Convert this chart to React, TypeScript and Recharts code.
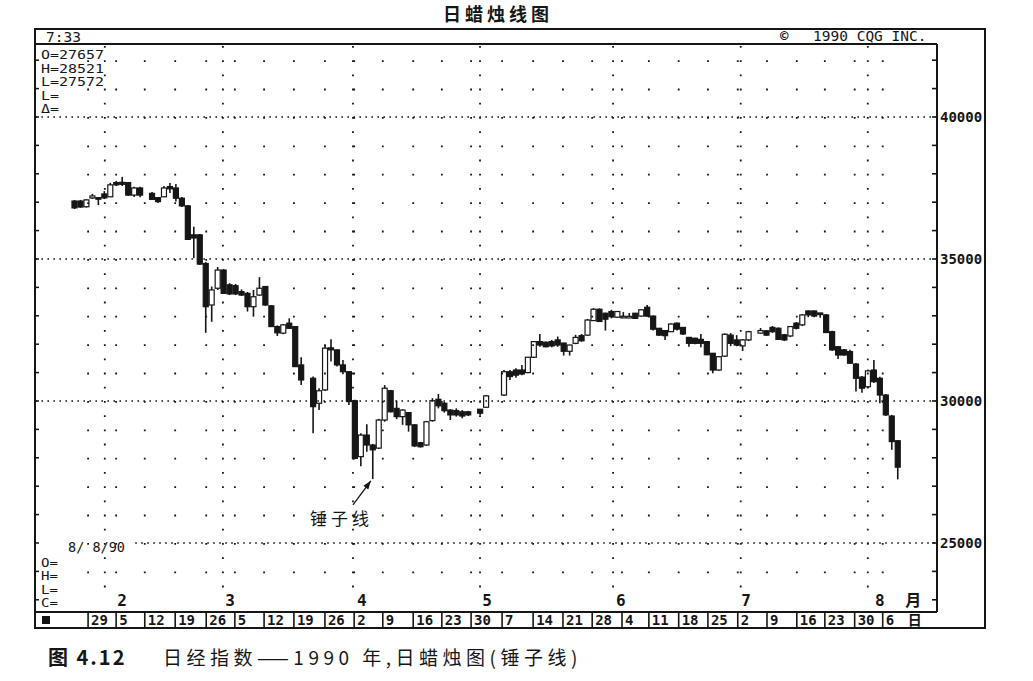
import React from 'react'
import { ComposedChart, Bar, XAxis, YAxis, ReferenceLine } from 'recharts'

const INK = '#161616'
const MONO = '"DejaVu Sans Mono", monospace'
const CJK = '"Noto Sans CJK SC", sans-serif'

// one slot per weekday, Thu 25 Jan 1990 .. Wed 8 Aug 1990; null = no session drawn
const opens = [
  37040, 37040, 36840, 37150, 37160, 37290, 37190, 37690, 37700, 37690, 37250, 37500, null, 37310, 37160, 37190,
  37550, 37500, 37140, 36870, 35850, 35850, 34840, 33380, 33970, 34610, 34090, 34060, 33850, 33790, 33320, 33730,
  34030, 33350, 32620, 32390, 32740, 32620, 31270, null, 30800, 29920, 30390, 31870, 31800, 31270, 31030, 30010,
  28040, 28800, 28450, 28340, 29330, 30360, 29740, 29450, 29590, 29160, 28530, 28450, 29310, 30060, 29920, 29680,
  29660, 29620, 29620, null, 29710, 29780, null, null, 30210, 31030, 31090, 31090, 31000, 31540, 32090, 32070,
  32090, 32150, 32040, 31750, 32030, 32300, 32320, 32830, 33230, 33090, 33150, 32950, 32950, 32950, 33090, 32990,
  33300, 32990, 32560, 32480, 32440, 32740, 32590, 32240, 32210, 32170, 32090, 31680, 31090, 31580, 32320, 32150,
  31940, 32150, null, 32390, 32470, 32590, 32560, 32330, 32290, 32740, 32680, 33170, 33170, 33100, 33030, 32440,
  31910, 31800, 31740, 31300, 30840, 30500, 31090, 30800, 30210, 29470, 28600,
]
const highs = [
  37080, 37080, 37110, 37290, 37160, 37390, 37680, 37750, 37890, 37710, 37540, 37540, null, 37360, 37180, 37570,
  37680, 37640, 37180, 36900, 36140, 35880, 34890, 34030, 34720, 34650, 34150, 34120, 33930, 33840, 33910, 34360,
  34050, 33380, 32660, 32710, 32910, 32640, 31540, null, 30860, 30450, 31970, 32170, 31810, 31440, 31060, 30040,
  28860, 29180, 28490, 29370, 30560, 30390, 30010, 29710, 29610, 29180, 28560, 29300, 30100, 30250, 29970, 29710,
  29740, 29680, 29650, null, 29720, 30210, null, null, 31090, 31090, 31150, 31270, 31550, 32110, 32360, 32090,
  32150, 32270, 32050, 31980, 32330, 32360, 32890, 33270, 33260, 33110, 33210, 33170, 33130, 33100, 33100, 33220,
  33380, 33010, 32570, 32500, 32730, 32760, 32600, 32250, 32230, 32360, 32100, 31690, 31580, 32380, 32390, 32320,
  32180, 32470, null, 32570, 32500, 32640, 32590, 32360, 32640, 32780, 33060, 33190, 33190, 33100, 33060, 32470,
  31930, 31830, 31800, 31340, 30880, 31110, 31440, 30850, 30250, 29510, 28620,
]
const lows = [
  36760, 36800, 36810, 37110, 36900, 37110, 37180, 37570, 37570, 37220, 37180, 37170, null, 37080, 36970, 37180,
  37320, 37020, 36830, 35670, 35030, 34790, 32400, 32790, 33910, 33770, 33730, 33730, 33700, 33150, 32970, 33700,
  33350, 32610, 32290, 32350, 32540, 31200, 30560, null, 28860, 29680, 30350, 31390, 31210, 30940, 29860, 27960,
  27700, 28210, 27250, 28310, 29270, 29600, 29360, 29160, 28920, 28380, 28360, 28420, 29270, 29740, 29590, 29330,
  29450, 29390, 29470, null, 29510, 29750, null, null, 30180, 30740, 30820, 30910, 30980, 31510, 31910, 31890,
  31890, 31910, 31600, 31600, 32000, 32090, 32290, 32820, 32790, 32480, 32910, 32920, 32940, 32940, 32890, 32970,
  32970, 32480, 32290, 32150, 32430, 32480, 32320, 31910, 32000, 31890, 31610, 30980, 31060, 31550, 31930, 31930,
  31760, 32110, null, 32370, 32290, 32400, 32150, 32110, 32250, 32520, 32640, 32950, 32950, 32930, 32390, 31760,
  31480, 31590, 31300, 30330, 30290, 30460, 30630, 29920, 29470, 28280, 27240,
]
const closes = [
  36800, 36830, 37080, 37220, 37140, 37150, 37610, 37610, 37630, 37250, 37500, 37250, null, 37100, 37020, 37500,
  37470, 37140, 36870, 35690, 35740, 34820, 33320, 33910, 34610, 33790, 33770, 33770, 33730, 33320, 33670, 33970,
  33380, 32620, 32400, 32680, 32560, 31210, 30740, null, 29800, 30360, 31860, 31800, 31270, 31030, 29980, 27980,
  28800, 28450, 28280, 29330, 30450, 29620, 29450, 29680, 29160, 28420, 28390, 29270, 30010, 29830, 29660, 29510,
  29510, 29470, 29510, null, 29570, 30180, null, null, 31030, 30860, 30910, 30950, 31540, 32090, 31970, 31910,
  31940, 31970, 31750, 31970, 32240, 32120, 32850, 33230, 32800, 32880, 32970, 33150, 32980, 32980, 32910, 33210,
  32990, 32530, 32320, 32300, 32710, 32530, 32360, 32030, 32030, 32030, 31630, 31090, 31560, 32350, 32030, 31970,
  32150, 32440, null, 32480, 32320, 32440, 32170, 32150, 32620, 32560, 33030, 33030, 32990, 33080, 32410, 31800,
  31620, 31620, 31330, 30800, 30450, 31060, 30680, 30210, 29510, 28570, 27670,
]

// date strip: Monday boxes, in slot units
const weekTicks = [
  2.2, 6.9, 11.7, 16.8, 22.0, 26.8, 31.7, 36.7, 41.9, 46.8, 51.6, 56.7, 61.5, 66.4,
  71.6, 76.8, 81.8, 86.7, 91.7, 96.2, 101.2, 106.1, 111.1, 116.0, 121.0, 125.7, 130.7, 135.4, 139.1,
]
const weekLabels = [
  '29', '5', '12', '19', '26', '5', '12', '19', '26', '2', '9', '16', '23', '30',
  '7', '14', '21', '28', '4', '11', '18', '25', '2', '9', '16', '23', '30', '6', '日',
]
const monthTicks = [7.9, 26.0, 48.1, 69.1, 91.5, 112.5, 134.9, 140.5]
const monthLabels = ['2', '3', '4', '5', '6', '7', '8', '月']
const monthStarts = [5.0, 24.8, 46.6, 67.9, 90.2, 111.6, 132.9]
const priceTicks = [23000, 24000, 25000, 26000, 27000, 28000, 29000, 30000, 31000, 32000, 33000, 34000, 35000, 36000, 37000, 38000, 39000, 40000, 41000, 42000]
const majorLevels = [40000, 35000, 30000]

const X_DOMAIN: [number, number] = [-6.7, 144.5]
const Y_DOMAIN: [number, number] = [22570, 42570]
const PX_PER_1000 = 28.4

const candles = opens
  .map((o, i) =>
    o == null
      ? null
      : { slot: i, o, h: highs[i] as number, l: lows[i] as number, c: closes[i] as number, range: [lows[i], highs[i]] },
  )
  .filter(Boolean)

const Candle = (props: any) => {
  const { x, y, width, height, payload } = props
  if (!payload || height == null) return null
  const { o, c, h, l } = payload
  const span = h - l || 1
  const py = (v: number) => y + ((h - v) / span) * height
  const cx = x + width / 2
  const top = py(Math.max(o, c))
  const bot = py(Math.min(o, c))
  const up = c > o
  return (
    <g>
      <line x1={cx} x2={cx} y1={y} y2={y + height} stroke={INK} strokeWidth={1.6} />
      <rect x={x} y={top} width={width} height={Math.max(bot - top, 1.6)} fill={up ? '#fff' : INK} stroke={INK} strokeWidth={1.2} />
    </g>
  )
}

const WeekTick = (p: any) => {
  const label = weekLabels[p.index]
  const boxed = /\d/.test(label)
  return (
    <g>
      {boxed && <line x1={p.x} x2={p.x} y1={p.y} y2={p.y + 16} stroke={INK} strokeWidth={1.6} />}
      <text x={p.x + 3} y={p.y + 13} fontFamily={boxed ? MONO : CJK} fontSize={14} fontWeight="bold" fill={INK}>
        {label}
      </text>
    </g>
  )
}

const PriceTick = (p: any) => {
  const v = p.payload.value
  return (
    <g>
      <line x1={p.x - 5} x2={p.x} y1={p.y} y2={p.y} stroke={INK} strokeWidth={1.6} />
      {v % 5000 === 0 && (
        <text x={p.x + 3} y={p.y + 5} fontFamily={MONO} fontSize={14} fontWeight="bold" fill={INK}>
          {v}
        </text>
      )}
    </g>
  )
}

const HammerArrow = (p: any) => {
  const { x1, y1, x2, y2 } = p
  const ang = Math.atan2(y2 - y1, x2 - x1)
  const hx = (a: number) => x2 - 9 * Math.cos(ang + a)
  const hy = (a: number) => y2 - 9 * Math.sin(ang + a)
  return (
    <g>
      <line x1={x1} y1={y1} x2={x2} y2={y2} stroke={INK} strokeWidth={1.3} />
      <path d={`M${x2},${y2} L${hx(0.35)},${hy(0.35)} L${hx(-0.35)},${hy(-0.35)} Z`} fill={INK} />
      <text x={x1 - 43} y={y1 + 20} fontFamily={CJK} fontSize={17} letterSpacing={4} fill={INK}>
        锤子线
      </text>
    </g>
  )
}

const infoTop = ['O=27657', 'H=28521', 'L=27572', 'L=', 'Δ=']
const infoBottom = ['O=', 'H=', 'L=', 'C=']

export default function App() {
  const dot1000 = `1.8 ${PX_PER_1000 - 1.8}`
  const dot500 = `1.8 ${PX_PER_1000 / 2 - 1.8}`
  return (
    <div style={{ position: 'absolute', left: 0, top: 0, width: 1033, height: 681, background: '#fff' }}>
      <svg width={1033} height={681} style={{ position: 'absolute', left: 0, top: 0 }}>
        <text x={498} y={21} textAnchor="middle" fontFamily={CJK} fontSize={18} fontWeight="bold" letterSpacing={4} fill={INK}>
          日蜡烛线图
        </text>
        <rect x={35} y={29} width={950} height={599} fill="none" stroke={INK} strokeWidth={2} />
        <line x1={35} x2={937} y1={44} y2={44} stroke={INK} strokeWidth={2} />
        <text x={46} y={42} fontFamily={MONO} fontSize={14.5} fill={INK}>7:33</text>
        <text x={780} y={41} fontFamily={MONO} fontSize={14} fontWeight="bold" fill={INK}>©</text>
        <text x={813} y={41} fontFamily={MONO} fontSize={14.5} fill={INK}>1990 CQG INC.</text>
        {infoTop.map((t, i) => (
          <text
            key={i}
            x={41}
            y={59 + i * 13.5}
            fontFamily={MONO}
            fontSize={11.5}
            textLength={t.length * 9}
            lengthAdjust="spacingAndGlyphs"
            fill={INK}
          >
            {t}
          </text>
        ))}
        <text x={68} y={552} fontFamily={MONO} fontSize={13.5} fill={INK}>8/ 8/90</text>
        {infoBottom.map((t, i) => (
          <text
            key={i}
            x={41}
            y={567 + i * 13.3}
            fontFamily={MONO}
            fontSize={11.5}
            textLength={17}
            lengthAdjust="spacingAndGlyphs"
            fill={INK}
          >
            {t}
          </text>
        ))}
        <rect x={42} y={616} width={8} height={8} fill={INK} />
        <text x={48} y={665} fontFamily={CJK} fontSize={20} fontWeight="bold" letterSpacing={2} fill={INK}>图 4.12</text>
        <text x={163} y={665} fontFamily={CJK} fontSize={19} letterSpacing={4.5} fill={INK}>
          日经指数——1990 年,日蜡烛图(锤子线)
        </text>
      </svg>
      <div style={{ position: 'absolute', left: 0, top: 0 }}>
        <ComposedChart width={1033} height={681} data={candles} margin={{ top: 44, right: 48, bottom: 53, left: 35 }}>
          <XAxis
            xAxisId="w"
            dataKey="slot"
            type="number"
            domain={X_DOMAIN}
            allowDataOverflow
            ticks={weekTicks}
            interval={0}
            height={16}
            tickSize={0}
            tickMargin={0}
            tickLine={false}
            axisLine={{ stroke: INK, strokeWidth: 2 }}
            tick={(p: any) => <WeekTick {...p} />}
          />
          <XAxis
            xAxisId="m"
            dataKey="slot"
            type="number"
            domain={X_DOMAIN}
            allowDataOverflow
            mirror
            ticks={monthTicks}
            interval={0}
            tickSize={0}
            tickMargin={6}
            tickLine={false}
            axisLine={false}
            tickFormatter={(_v: number, i: number) => monthLabels[i]}
            tick={{ fill: INK, fontSize: 16, fontWeight: 'bold', fontFamily: `${MONO}, ${CJK}` }}
          />
          <YAxis
            yAxisId="l"
            orientation="left"
            mirror
            type="number"
            domain={Y_DOMAIN}
            allowDataOverflow
            ticks={priceTicks}
            interval={0}
            tickSize={4}
            tickFormatter={() => ''}
            axisLine={{ stroke: INK, strokeWidth: 2 }}
            tickLine={{ stroke: INK, strokeWidth: 1.5 }}
          />
          <YAxis
            yAxisId="r"
            orientation="right"
            width={48}
            type="number"
            domain={Y_DOMAIN}
            allowDataOverflow
            ticks={priceTicks}
            interval={0}
            tickSize={0}
            tickMargin={0}
            tickLine={false}
            axisLine={{ stroke: INK, strokeWidth: 2 }}
            tick={(p: any) => <PriceTick {...p} />}
          />
          {majorLevels.map((v) => (
            <ReferenceLine key={v} xAxisId="w" yAxisId="r" y={v} stroke={INK} strokeWidth={1.6} strokeDasharray="1.6 4.4" />
          ))}
          <ReferenceLine
            xAxisId="w"
            yAxisId="r"
            segment={[{ x: 10.1, y: 25000 }, { x: X_DOMAIN[1], y: 25000 }]}
            stroke={INK}
            strokeWidth={1.6}
            strokeDasharray="1.6 4.4"
          />
          {weekTicks.slice(0, -1).map((w) => (
            <ReferenceLine
              key={`w${w}`}
              xAxisId="w"
              yAxisId="r"
              segment={[{ x: w, y: 42000 }, { x: w, y: 23000 }]}
              stroke={INK}
              strokeWidth={1.8}
              strokeDasharray={dot1000}
            />
          ))}
          {monthStarts.map((m) => (
            <ReferenceLine
              key={`m${m}`}
              xAxisId="w"
              yAxisId="r"
              segment={[{ x: m, y: 42500 }, { x: m, y: 23000 }]}
              stroke={INK}
              strokeWidth={1.8}
              strokeDasharray={dot500}
            />
          ))}
          <Bar xAxisId="w" yAxisId="r" dataKey="range" barSize={5} shape={(p: any) => <Candle {...p} />} isAnimationActive={false} />
          <ReferenceLine
            xAxisId="w"
            yAxisId="r"
            segment={[{ x: 46.6, y: 26340 }, { x: 49.6, y: 27190 }]}
            shape={(p: any) => <HammerArrow {...p} />}
          />
        </ComposedChart>
      </div>
    </div>
  )
}
